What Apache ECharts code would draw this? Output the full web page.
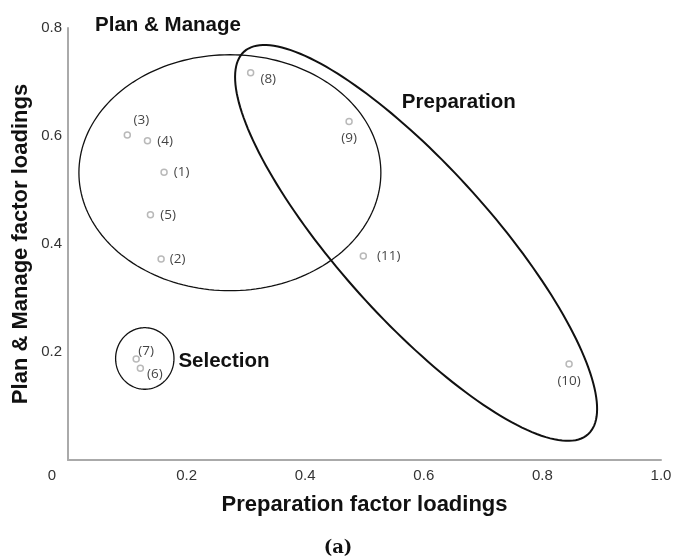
<!DOCTYPE html>
<html>
<head>
<meta charset="utf-8">
<script src="https://cdn.jsdelivr.net/npm/echarts@6/dist/echarts.min.js"></script>
<style>html,body{margin:0;padding:0;background:#fff;}#c{width:676px;height:560px;}</style>
</head>
<body>
<div id="c"></div>
<script>
// ---- data ----
const itemLabels = ['(1)', '(2)', '(3)', '(4)', '(5)', '(6)', '(7)', '(8)', '(9)', '(10)', '(11)'];
const preparationLoadings = [0.162, 0.157, 0.100, 0.134, 0.139, 0.122, 0.115, 0.308, 0.474, 0.845, 0.498];
const planManageLoadings  = [0.533, 0.372, 0.602, 0.591, 0.454, 0.170, 0.187, 0.717, 0.627, 0.178, 0.378];
const xTicks = [0, 0.2, 0.4, 0.6, 0.8, 1.0];
const yTicks = [0, 0.2, 0.4, 0.6, 0.8];
// factor groups: name, ellipse centre (x, y), half-axis vectors u and v in data units
const groupNames   = ['Plan & Manage', 'Preparation', 'Selection'];
const groupCentreX = [0.273, 0.587, 0.1295];
const groupCentreY = [0.532, 0.402, 0.188];
const groupUx      = [0.2546, 0.290, 0.0492];
const groupUy      = [0, -0.3543, 0];
const groupVx      = [0, -0.0953, 0];
const groupVy      = [0.2185, -0.0941, 0.057];
// group title anchors (data units)
const groupLabelX  = [0.1686, 0.659, 0.263];
const groupLabelY  = [0.8056, 0.663, 0.183];

// ---- presentation ----
const labelStyle = {
  '(1)': {position: 'right', distance: 6},
  '(2)': {position: 'right', distance: 5},
  '(3)': {position: 'top', distance: 4, offset: [14, 0]},
  '(4)': {position: 'right', distance: 6},
  '(5)': {position: 'right', distance: 6},
  '(6)': {position: 'right', distance: 3, offset: [0, 6]},
  '(7)': {position: 'top', distance: 0, offset: [10, 3]},
  '(8)': {position: 'right', distance: 6, offset: [0, 6]},
  '(9)': {position: 'bottom', distance: 6},
  '(10)': {position: 'bottom', distance: 7},
  '(11)': {position: 'right', distance: 10}
};
const ellipseWidth = [1.3, 2, 1.3];

const pointData = itemLabels.map((name, i) => ({
  name: name,
  value: [preparationLoadings[i], planManageLoadings[i]],
  label: Object.assign({show: true}, labelStyle[name])
}));
const ellipseData = groupNames.map((n, i) => ({
  name: n,
  value: [groupCentreX[i], groupCentreY[i], groupUx[i], groupUy[i], groupVx[i], groupVy[i], i]
}));
const groupLabelData = groupNames.map((n, i) => ({name: n, value: [groupLabelX[i], groupLabelY[i]]}));

const chart = echarts.init(document.getElementById('c'), null, {renderer: 'canvas'});
const labelFont = 'Liberation Sans, Arial, sans-serif';
chart.setOption({
  animation: false,
  backgroundColor: '#ffffff',
  grid: {left: 68, top: 28, right: 15, bottom: 100, containLabel: false},
  title: {
    text: '(a)', left: 'center', top: 534,
    textStyle: {fontFamily: 'DejaVu Serif, serif', fontSize: 18, fontWeight: 'bold', color: '#111'}
  },
  xAxis: {
    type: 'value', min: xTicks[0], max: xTicks[xTicks.length - 1], interval: 0.2,
    name: 'Preparation factor loadings', nameLocation: 'middle', nameGap: 34,
    nameTextStyle: {fontFamily: labelFont, fontSize: 22, fontWeight: 'bold', color: '#111'},
    axisLine: {lineStyle: {color: '#aaaaaa', width: 2}},
    axisTick: {show: false}, splitLine: {show: false},
    axisLabel: {
      margin: 8, fontFamily: labelFont, fontSize: 15, color: '#333',
      formatter: v => v === 0 ? '{z|0}' : (v === 1 ? '1.0' : String(v)),
      rich: {z: {fontFamily: labelFont, fontSize: 15, color: '#333', padding: [0, 32, 0, 0]}}
    }
  },
  yAxis: {
    type: 'value', min: yTicks[0], max: yTicks[yTicks.length - 1], interval: 0.2,
    name: 'Plan & Manage factor loadings', nameLocation: 'middle', nameGap: 36, nameRotate: 90,
    nameMoveOverlap: false,
    nameTextStyle: {fontFamily: labelFont, fontSize: 22, fontWeight: 'bold', color: '#111'},
    axisLine: {show: true, lineStyle: {color: '#aaaaaa', width: 2}},
    axisTick: {show: false}, splitLine: {show: false},
    axisLabel: {showMinLabel: false, margin: 6, fontFamily: labelFont, fontSize: 15, color: '#333'}
  },
  series: [
    {
      type: 'custom', coordinateSystem: 'cartesian2d', clip: false, silent: true, z: 1,
      encode: {x: 0, y: 1},
      data: ellipseData,
      renderItem: function (params, api) {
        const cx = api.value(0), cy = api.value(1);
        const ux = api.value(2), uy = api.value(3), vx = api.value(4), vy = api.value(5);
        const idx = api.value(6);
        const pts = [];
        const n = 180;
        for (let k = 0; k < n; k++) {
          const t = 2 * Math.PI * k / n;
          pts.push(api.coord([cx + ux * Math.cos(t) + vx * Math.sin(t), cy + uy * Math.cos(t) + vy * Math.sin(t)]));
        }
        return {
          type: 'polygon', shape: {points: pts},
          style: {fill: 'none', stroke: '#111', lineWidth: ellipseWidth[idx]}
        };
      }
    },
    {
      type: 'custom', coordinateSystem: 'cartesian2d', clip: false, silent: true, z: 3,
      encode: {x: 0, y: 1},
      data: groupLabelData,
      renderItem: function (params, api) {
        const p = api.coord([api.value(0), api.value(1)]);
        return {
          type: 'text', x: p[0], y: p[1],
          style: {
            text: groupNames[params.dataIndex], align: 'center', verticalAlign: 'middle',
            fontFamily: labelFont, fontSize: 20.5, fontWeight: 'bold', fill: '#111'
          }
        };
      }
    },
    {
      type: 'scatter', z: 2, symbol: 'circle', symbolSize: 6,
      itemStyle: {color: '#ffffff', borderColor: '#a8a8a8', borderWidth: 1.5},
      label: {
        show: true, formatter: p => p.name,
        fontFamily: 'Open Sans, sans-serif', fontSize: 13.5, color: '#111'
      },
      data: pointData
    }
  ]
});
</script>
</body>
</html>
